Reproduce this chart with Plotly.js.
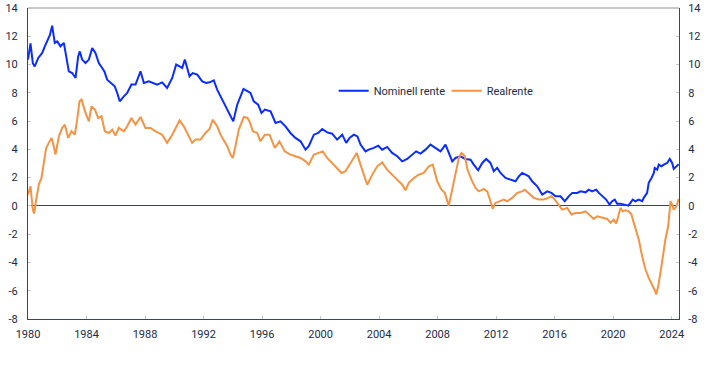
<!DOCTYPE html>
<html>
<head>
<meta charset="utf-8">
<script src="https://cdn.plot.ly/plotly-3.0.1.min.js"></script>
<style>html,body{margin:0;padding:0;background:#fff;}#chart{width:722px;height:380px;}</style>
</head>
<body>
<div id="chart"></div>
<script>
// Nominell rente (year, percent)
const nomYears = [1980.00,1980.17,1980.33,1980.46,1980.70,1980.97,1981.15,1981.38,1981.50,1981.65,1981.83,1982.00,1982.22,1982.45,1982.61,1982.79,1983.02,1983.25,1983.43,1983.54,1983.70,1983.93,1984.16,1984.39,1984.61,1984.84,1985.07,1985.23,1985.41,1985.64,1985.93,1986.10,1986.27,1986.55,1986.78,1987.07,1987.35,1987.69,1987.92,1988.26,1988.60,1988.83,1989.17,1989.51,1989.86,1990.13,1990.36,1990.54,1990.72,1991.04,1991.26,1991.57,1991.91,1992.18,1992.41,1992.70,1992.93,1993.23,1993.50,1993.73,1994.03,1994.30,1994.59,1994.73,1995.02,1995.21,1995.43,1995.73,1995.96,1996.19,1996.58,1996.92,1997.26,1997.60,1997.94,1998.28,1998.63,1998.97,1999.19,1999.54,1999.84,2000.11,2000.45,2000.79,2001.13,2001.48,2001.75,2001.98,2002.27,2002.52,2002.73,2003.07,2003.29,2003.64,2003.94,2004.21,2004.55,2004.89,2005.24,2005.58,2005.92,2006.26,2006.53,2006.83,2007.17,2007.51,2007.85,2008.20,2008.54,2008.76,2009.00,2009.22,2009.56,2009.90,2010.25,2010.47,2010.77,2011.05,2011.32,2011.61,2011.84,2012.07,2012.30,2012.64,2012.98,2013.32,2013.55,2013.78,2014.01,2014.23,2014.46,2014.81,2015.15,2015.49,2015.78,2016.06,2016.40,2016.69,2016.96,2017.20,2017.54,2017.77,2018.11,2018.33,2018.56,2018.84,2019.02,2019.29,2019.52,2019.75,2019.93,2020.11,2020.27,2020.50,2020.79,2021.03,2021.18,2021.34,2021.52,2021.75,2021.98,2022.09,2022.32,2022.43,2022.62,2022.78,2022.84,2023.01,2023.12,2023.30,2023.46,2023.69,2023.87,2024.03,2024.14,2024.33,2024.48];
const nomValues = [10.35,11.5,10.1,9.87,10.47,10.82,11.29,11.76,12.1,12.75,11.53,11.64,11.29,11.53,10.58,9.52,9.4,9.05,10.58,10.93,10.35,10.11,10.35,11.17,10.82,10.11,9.76,9.5,8.93,8.7,8.46,7.99,7.4,7.75,7.99,8.58,8.58,9.52,8.7,8.81,8.7,8.58,8.74,8.34,9.05,10.0,9.87,9.76,10.35,9.17,9.4,9.29,8.81,8.7,8.74,8.88,8.22,7.64,7.04,6.58,5.98,7.16,7.99,8.27,8.1,7.99,7.4,7.16,6.58,6.81,6.69,5.87,5.98,5.63,5.16,4.81,4.57,3.98,4.22,5.04,5.16,5.44,5.2,5.11,4.69,5.04,4.46,4.81,5.04,4.92,4.34,3.86,3.98,4.1,4.26,3.98,4.17,3.75,3.51,3.15,3.32,3.63,3.86,3.7,3.98,4.34,4.1,3.86,4.34,3.75,3.15,3.39,3.51,3.32,3.27,2.92,2.52,3.04,3.32,3.04,2.45,2.69,2.33,1.98,1.86,1.74,2.09,2.33,2.21,2.09,1.74,1.39,0.8,1.03,0.92,0.68,0.68,0.33,0.68,0.92,0.92,1.03,0.96,1.15,1.03,1.15,0.92,0.68,0.45,0.09,0.33,0.45,0.16,0.16,0.07,0.02,0.21,0.45,0.33,0.45,0.33,0.57,0.92,1.63,1.98,2.33,2.69,2.57,2.92,2.8,2.92,3.04,3.32,3.04,2.62,2.8,2.95];

// Realrente (year, percent)
const realYears = [1980.00,1980.17,1980.33,1980.42,1980.56,1980.74,1980.92,1981.08,1981.24,1981.42,1981.61,1981.76,1981.88,1982.11,1982.34,1982.52,1982.75,1982.97,1983.20,1983.36,1983.52,1983.66,1983.79,1983.93,1984.16,1984.34,1984.57,1984.80,1985.02,1985.25,1985.52,1985.76,1985.98,1986.21,1986.55,1986.78,1987.07,1987.35,1987.69,1988.03,1988.37,1988.72,1989.17,1989.51,1989.86,1990.13,1990.36,1990.65,1990.95,1991.22,1991.45,1991.79,1992.13,1992.41,1992.63,1992.93,1993.16,1993.38,1993.62,1993.84,1994.00,1994.18,1994.41,1994.75,1995.00,1995.14,1995.37,1995.67,1995.89,1996.19,1996.51,1996.87,1997.19,1997.55,1997.94,1998.28,1998.63,1998.97,1999.19,1999.54,1999.88,2000.15,2000.45,2000.79,2001.13,2001.43,2001.70,2002.04,2002.39,2002.47,2002.84,2003.19,2003.53,2003.87,2004.21,2004.55,2004.89,2005.24,2005.58,2005.80,2006.03,2006.37,2006.71,2007.05,2007.40,2007.67,2007.97,2008.26,2008.49,2008.76,2009.00,2009.22,2009.45,2009.63,2009.86,2010.04,2010.31,2010.59,2010.81,2011.16,2011.39,2011.61,2011.77,2011.95,2012.18,2012.52,2012.75,2013.10,2013.44,2013.78,2013.96,2014.23,2014.57,2014.91,2015.26,2015.56,2015.78,2016.01,2016.29,2016.51,2016.86,2017.15,2017.42,2017.77,2018.11,2018.33,2018.67,2018.91,2019.25,2019.59,2019.82,2020.04,2020.21,2020.34,2020.50,2020.66,2020.84,2021.07,2021.25,2021.41,2021.57,2021.75,2021.98,2022.21,2022.43,2022.62,2022.78,2022.86,2022.94,2023.08,2023.23,2023.39,2023.57,2023.76,2023.92,2024.03,2024.14,2024.33,2024.48];
const realValues = [0.8,1.39,-0.26,-0.54,0.45,1.51,1.98,3.15,4.1,4.46,4.81,4.22,3.63,4.92,5.52,5.75,4.81,5.28,5.04,6.1,7.4,7.52,7.04,6.58,5.98,7.04,6.81,6.22,6.34,5.28,5.16,5.4,4.97,5.52,5.28,5.63,6.22,5.75,6.29,5.52,5.52,5.28,5.04,4.46,5.04,5.63,6.05,5.63,5.04,4.46,4.69,4.69,5.16,5.44,6.1,5.63,5.04,4.69,4.22,3.63,3.39,4.22,5.4,6.29,6.22,5.98,5.28,5.16,4.57,5.04,5.04,4.1,4.57,3.86,3.63,3.51,3.39,3.15,2.92,3.63,3.79,3.86,3.39,3.04,2.69,2.33,2.45,3.04,3.63,3.75,2.57,1.5,2.21,2.8,3.08,2.57,2.21,1.86,1.5,1.1,1.63,1.98,2.21,2.33,2.8,2.92,1.74,1.15,0.92,0.0,1.15,2.33,3.39,3.75,3.51,2.57,1.86,1.27,1.03,1.2,1.03,0.33,-0.21,0.21,0.33,0.45,0.33,0.57,0.92,1.03,1.15,0.92,0.57,0.45,0.45,0.57,0.68,0.45,0.09,-0.26,-0.14,-0.61,-0.5,-0.5,-0.38,-0.61,-0.92,-0.73,-0.85,-0.92,-1.2,-0.97,-1.25,-0.73,-0.14,-0.38,-0.31,-0.38,-0.61,-1.2,-1.68,-2.38,-3.56,-4.5,-5.09,-5.45,-5.8,-6.0,-6.27,-5.69,-4.74,-3.56,-2.38,-1.44,0.33,0.09,-0.26,-0.03,0.5];

const yearTicks = [1980,1984,1988,1992,1996,2000,2004,2008,2012,2016,2020,2024];
const yTicks = [-8,-6,-4,-2,0,2,4,6,8,10,12,14];
const seriesNames = ['Nominell rente','Realrente'];

const FONT = 'Roboto, "Liberation Sans", Arial, sans-serif';
const TXT = '#222a45';
const AX = '#3d4559';

const traces = [
  {x: nomYears, y: nomValues, name: seriesNames[0], type: 'scatter', mode: 'lines',
   yaxis: 'y', line: {color: '#0a2cff', width: 2}},
  {x: realYears, y: realValues, name: seriesNames[1], type: 'scatter', mode: 'lines',
   yaxis: 'y2', line: {color: '#f39444', width: 2}}
];

const yCommon = {
  range: [-8, 14], autorange: false, tickmode: 'array', tickvals: yTicks, ticktext: yTicks.map(String),
  showgrid: false, ticks: 'inside', ticklen: 3, tickcolor: '#c4c6cc',
  showline: true, linecolor: AX, linewidth: 1,
  tickfont: {family: FONT, size: 11, color: TXT}, fixedrange: true
};

const layout = {
  width: 722, height: 380,
  margin: {l: 28, r: 43, t: 8, b: 61},
  paper_bgcolor: '#ffffff', plot_bgcolor: '#ffffff',
  font: {family: FONT, size: 11, color: TXT},
  showlegend: true,
  legend: {orientation: 'h', x: 0.4695, y: 0.734, xanchor: 'left', yanchor: 'middle',
           entrywidth: 68, entrywidthmode: 'pixels',
           font: {family: FONT, size: 11, color: TXT}, bgcolor: 'rgba(0,0,0,0)', tracegroupgap: 0},
  xaxis: {
    range: [1980, 2024.5], tickmode: 'array', tickvals: yearTicks, ticktext: yearTicks.map(String),
    showgrid: false, zeroline: false, ticks: 'inside', ticklen: 3, tickcolor: '#c4c6cc',
    showline: true, linecolor: AX, linewidth: 1, ticklabelstandoff: 5,
    tickfont: {family: FONT, size: 11, color: TXT}
  },
  yaxis: Object.assign({}, yCommon, {side: 'left', zeroline: true, zerolinecolor: AX, zerolinewidth: 1, ticklabelstandoff: 7}),
  yaxis2: Object.assign({}, yCommon, {side: 'right', overlaying: 'y', zeroline: false, ticklabelstandoff: 6}),
  shapes: [
    {type: 'line', xref: 'paper', yref: 'paper', x0: 0, x1: 1, y0: 1, y1: 1, line: {color: '#8e929c', width: 1}}
  ]
};

Plotly.newPlot('chart', traces, layout, {staticPlot: true, displayModeBar: false});
</script>
</body>
</html>
